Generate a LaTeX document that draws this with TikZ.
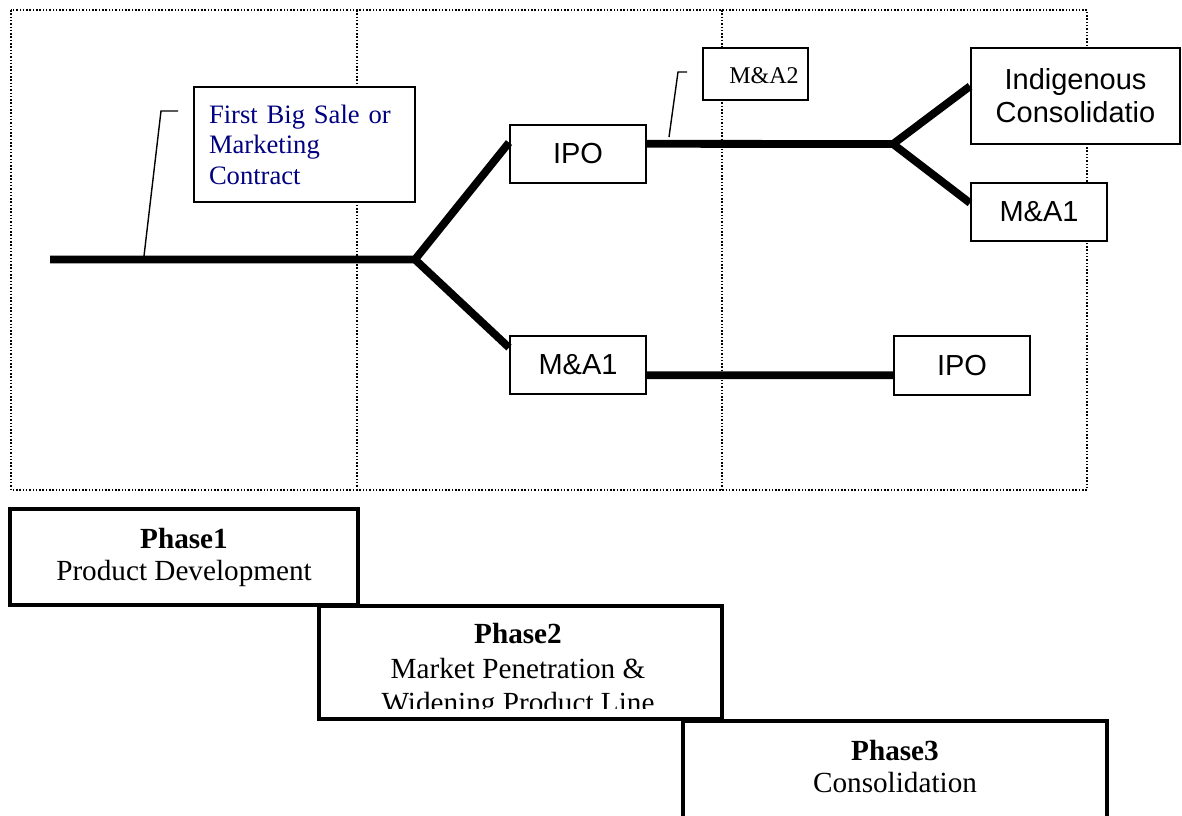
\documentclass[tikz,border=0pt]{standalone}
\usepackage{fontspec}
\setmainfont{Liberation Serif}
\setsansfont{Liberation Sans}
\usetikzlibrary{calc}
\definecolor{calloutblue}{RGB}{0,0,128}
\tikzset{
  frameline/.style={line width=0.75pt, dash pattern=on 0.75pt off 0.9pt},
  trunk/.style={line width=3.9pt, line cap=butt, line join=miter},
  leader/.style={line width=0.7pt},
  sbox/.style={draw, fill=white, line width=1pt, inner sep=0pt, align=center,
    font=\sffamily\fontsize{14.5pt}{16.5pt}\selectfont},
  phasebox/.style={draw, fill=white, line width=2pt, inner sep=0pt},
  phasetext/.style={anchor=base, inner sep=0pt, font=\fontsize{14.6pt}{16pt}\selectfont},
}
\begin{document}
\begin{tikzpicture}[x=0.5pt,y=-0.5pt]
\useasboundingbox (0,0) rectangle (1182,815);
\clip (0,0) rectangle (1182,815);

% dotted frame and phase separators
\draw[frameline] (11,10) rectangle (1087,490);
\draw[frameline] (357,10) -- (357,490);
\draw[frameline] (722,10) -- (722,490);

% callout boxes
\node[draw, fill=white, line width=1pt, minimum width=110.5pt, minimum height=57.5pt,
      inner xsep=7.5pt, inner ysep=0pt, text width=95.5pt, align=left,
      text=calloutblue, font=\fontsize{13.3pt}{15.2pt}\selectfont]
  (fbs) at (304.5,144.5) {First Big Sale or\\Marketing\\Contract};
\node[draw, fill=white, line width=1pt, minimum width=52.5pt, minimum height=26pt,
      inner sep=0pt] (ma2) at (755.5,74) {};
\node[anchor=base west, inner sep=0pt, font=\fontsize{12pt}{14pt}\selectfont]
  (ma2t) at (729,83) {M\&A2};

% outcome boxes
\node[sbox, minimum width=68pt, minimum height=29pt] (ipoA) at (578,154) {IPO};
\node[sbox, minimum width=68pt, minimum height=29pt] (maA) at (578,365) {M\&A1};
\node[sbox, minimum width=68pt, minimum height=29.5pt] (ipoB) at (962,365.5) {IPO};
\node[sbox, minimum width=104.5pt, minimum height=48pt] (ind) at (1075.5,96) {Indigenous\\Consolidatio};
\node[sbox, minimum width=68pt, minimum height=29pt] (maB) at (1039,212) {M\&A1};

% trunk lines
\coordinate (start) at (50,259.5);
\coordinate (b1) at (415,259.5);
\coordinate (b2) at (893,144);
\draw[trunk] (start) -- (b1) -- ($(ipoA.north west)!0.31!(ipoA.south west)$);
\draw[trunk] (b1) -- ($(maA.north west)!0.21!(maA.south west)$);
\draw[trunk] ($(ipoA.north east)!0.33!(ipoA.south east)$) -- (b2);
\draw[trunk] (b2) -- ($(ind.north west)!0.40!(ind.south west)$);
\draw[trunk] (b2) -- ($(maB.north west)!0.35!(maB.south west)$);
\draw[trunk] ($(maA.north east)!0.67!(maA.south east)$) -- ($(ipoB.north west)!0.66!(ipoB.south west)$);

% leader lines of callouts
\coordinate (fbsA) at (178,111);
\coordinate (fbsB) at (161,111);
\coordinate (fbsC) at (144,256);
\draw[leader] (fbsA) -- (fbsB) -- (fbsC);
\coordinate (ma2A) at (687,72);
\coordinate (ma2B) at (678,72);
\coordinate (ma2C) at (669,137);
\draw[leader] (ma2A) -- (ma2B) -- (ma2C);

% phase boxes
\node[phasebox, minimum width=174pt, minimum height=48pt] (ph1) at (184,557) {};
\node[phasebox, minimum width=201.5pt, minimum height=56.5pt] (ph2) at (520.5,662.5) {};
\node[phasebox, minimum width=212pt, minimum height=60pt] (ph3) at (895,781) {};

\node[phasetext] (ph1t) at (184,548) {\textbf{Phase1}};
\node[phasetext] (ph1s) at (184,580) {Product Development};

\node[phasetext] (ph2t) at (518,643) {\textbf{Phase2}};
\node[phasetext] (ph2s) at (518,678) {Market Penetration \&};
\begin{scope}
  \clip (321,608) rectangle (720,708);
  \node[phasetext] (ph2u) at (518,712) {Widening Product Line};
\end{scope}

\node[phasetext] (ph3t) at (895,760) {\textbf{Phase3}};
\node[phasetext] (ph3s) at (895,792) {Consolidation};
\end{tikzpicture}
\end{document}
